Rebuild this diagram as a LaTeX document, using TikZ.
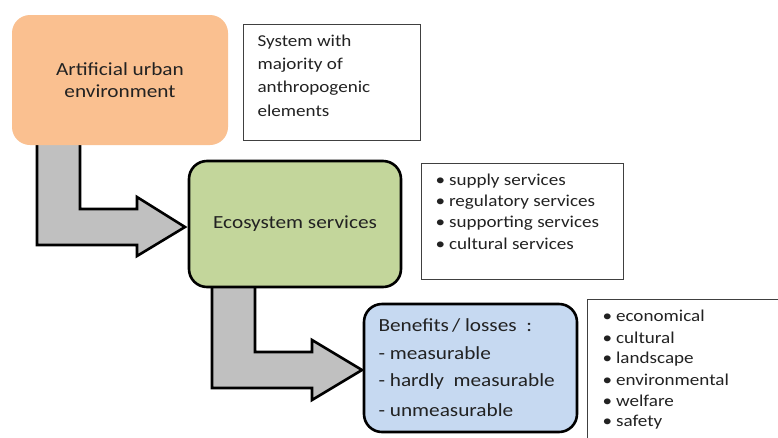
\documentclass[tikz,border=0pt]{standalone}
\usepackage{fontspec}
\setmainfont[FakeStretch=1.15]{Carlito}
\definecolor{peach}{HTML}{FAC090}
\definecolor{olivebox}{HTML}{C3D69B}
\definecolor{bluebox}{HTML}{C6D9F1}
\definecolor{arrowgray}{HTML}{C0C0C0}
\definecolor{txt}{HTML}{222222}
\begin{document}
\begin{tikzpicture}[x=1pt,y=-1pt,
  blockarrow/.style={draw=black,line width=2.6pt,fill=arrowgray,line join=miter},
  mainbox/.style={rounded corners=18pt,inner sep=0pt,align=center,text=txt},
  notebox/.style={draw=black!75,line width=0.8pt,fill=white,inner sep=0pt},
  notetext/.style={anchor=west,text=txt,font=\fontsize{16.6}{19}\selectfont},
]
\useasboundingbox (0,0) rectangle (778,437);
\clip (0,0) rectangle (778,437);
\fill[white] (0,0) rectangle (778,437);
% block arrows (under boxes)
\draw[blockarrow] (37,130) -- (80,130) -- (80,209) -- (137,209) -- (137,197) -- (185,227)
  -- (137,256) -- (137,245) -- (37,245) -- cycle;
\draw[blockarrow] (212,275) -- (255,275) -- (255,352) -- (312,352) -- (312,340) -- (362,370)
  -- (312,400) -- (312,388) -- (212,388) -- cycle;
% main boxes
\node[mainbox,fill=peach,minimum width=216pt,minimum height=130pt,
  font=\fontsize{18.5}{21.5}\selectfont] (urban) at (120,80)
  {Artificial urban\\environment};
\node[mainbox,draw=black,line width=2.6pt,fill=olivebox,minimum width=212pt,minimum height=126pt,
  font=\fontsize{18.5}{21}\selectfont] (eco) at (295,224) {Ecosystem services};
\node[mainbox,draw=black,line width=2.6pt,fill=bluebox,minimum width=213pt,minimum height=128pt] (ben) at (470.5,368) {};
% note boxes
\node[notebox,minimum width=177pt,minimum height=116pt] (note1) at (331.5,82) {};
\node[notebox,minimum width=202pt,minimum height=116pt] (note2) at (522,221) {};
\node[notebox,minimum width=220pt,minimum height=150pt] (note3) at (697,374) {};
% note 1 text
\foreach \t [count=\i from 0] in {System with,majority of,anthropogenic,elements}
  \node[notetext] (n1l\i) at (254,42+23*\i) {\t};
% note 2 text
\foreach \t [count=\i from 0] in {supply services,regulatory services,supporting services,cultural services}
  \node[notetext] (n2l\i) at (432,181+21*\i) {\textbullet\hspace{4pt}\t};
% note 3 text
\foreach \t [count=\i from 0] in {economical,cultural,landscape,environmental,welfare,safety}
  \node[notetext] (n3l\i) at (599,316+21.3*\i) {\textbullet\hspace{4pt}\t};
% benefits text
\foreach \t [count=\i from 0] in {Benefits\,/ losses~~:,- measurable,- hardly~ measurable,- unmeasurable}
  \node[anchor=west,text=txt,font=\fontsize{18.5}{21}\selectfont] (bl\i) at (375,325+28.3*\i) {\t};
\end{tikzpicture}
\end{document}
